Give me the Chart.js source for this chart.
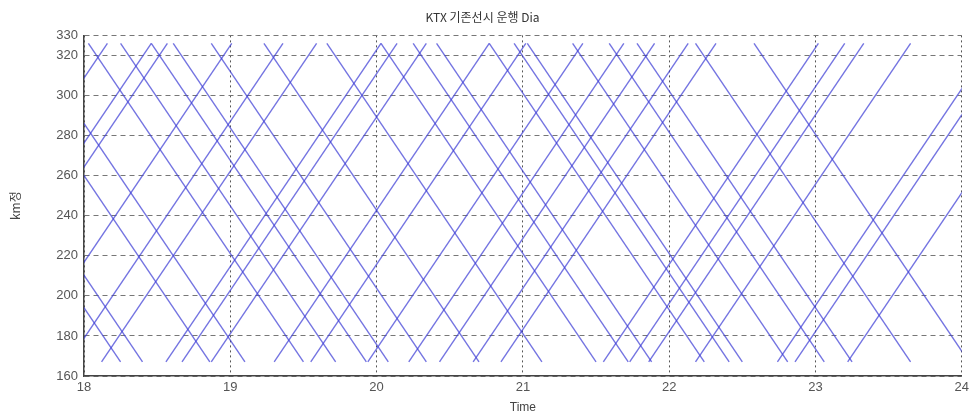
<!DOCTYPE html>
<html>
<head>
<meta charset="utf-8">
<script src="https://cdn.jsdelivr.net/npm/chart.js@4.4.1/dist/chart.umd.min.js"></script>
<style>
  html, body { margin: 0; padding: 0; background: #ffffff; }
  #wrap { width: 973px; height: 416px; }
</style>
</head>
<body>
<div id="wrap"><canvas id="dia" width="973" height="416"></canvas></div>
<script>
// Line ends (km post) shared by every train path
const kmTop = 326;
const kmBottom = 167;

// Down trains: time leaving kmTop and time reaching kmBottom (hours)
const downDepart = [16.78, 16.93, 17.39, 17.63, 18.03, 18.25, 18.46, 18.61, 18.87, 19.23, 19.66,
                    20.03, 20.25, 20.41, 20.77, 20.94, 21.03, 21.34, 21.59, 21.78, 22.18, 22.58];
const downArrive = [18.25, 18.40, 18.86, 19.10, 19.50, 19.72, 19.93, 20.08, 20.34, 20.70, 21.13,
                    21.50, 21.72, 21.88, 22.24, 22.41, 22.50, 22.81, 23.06, 23.25, 23.65, 24.05];

// Up trains: time leaving kmBottom and time reaching kmTop (hours)
const upDepart = [16.69, 16.99, 17.10, 17.54, 17.89, 18.12, 18.56, 18.67, 18.87, 19.30, 19.55, 19.94,
                  20.22, 20.43, 20.66, 20.85, 21.55, 21.73, 21.86, 22.18, 22.74, 22.86, 23.22];
const upArrive = [18.16, 18.46, 18.57, 19.01, 19.36, 19.59, 20.03, 20.14, 20.34, 20.77, 21.02, 21.41,
                  21.69, 21.90, 22.13, 22.32, 23.02, 23.20, 23.33, 23.65, 24.21, 24.33, 24.69];

// Axis ticks
const timeTicks = [18, 19, 20, 21, 22, 23, 24];
const kmTicks = [160, 180, 200, 220, 240, 260, 280, 300, 320, 330];

const lineColor = 'rgba(62, 62, 214, 0.72)';

const datasets = [];
downDepart.forEach((t, i) => {
  datasets.push({
    data: [{ x: t, y: kmTop }, { x: downArrive[i], y: kmBottom }],
    borderColor: lineColor, borderWidth: 1.4, pointRadius: 0, showLine: true, fill: false
  });
});
upDepart.forEach((t, i) => {
  datasets.push({
    data: [{ x: t, y: kmBottom }, { x: upArrive[i], y: kmTop }],
    borderColor: lineColor, borderWidth: 1.4, pointRadius: 0, showLine: true, fill: false
  });
});

const tickFont = { family: '"Liberation Sans", Arial, sans-serif', size: 13 };

new Chart(document.getElementById('dia'), {
  type: 'scatter',
  data: { datasets },
  options: {
    responsive: false,
    animation: false,
    events: [],
    layout: { padding: { left: 0, right: 8, top: 0, bottom: 0 } },
    plugins: {
      legend: { display: false },
      tooltip: { enabled: false },
      title: {
        display: true,
        text: 'KTX 기존선시 운행 Dia',
        color: '#333',
        font: { family: '"Noto Sans CJK KR", "Liberation Sans", sans-serif', size: 12, weight: 'normal' },
        padding: { top: 10, bottom: 11 }
      }
    },
    scales: {
      x: {
        type: 'linear',
        min: 18, max: 24,
        afterBuildTicks: s => { s.ticks = timeTicks.map(v => ({ value: v })); },
        afterFit: s => { s.height = 40; },
        ticks: { color: '#555', font: tickFont, padding: 4, maxRotation: 0 },
        grid: { color: '#555', lineWidth: 1, drawTicks: false },
        border: { display: true, color: '#444', width: 1.5, dash: [2, 3] },
        title: {
          display: true, text: 'Time', color: '#444',
          font: { family: '"Liberation Sans", Arial, sans-serif', size: 12 },
          padding: { top: 0, bottom: 1 }
        }
      },
      y: {
        type: 'linear',
        min: 160, max: 330,
        afterBuildTicks: s => { s.ticks = kmTicks.map(v => ({ value: v })); },
        afterFit: s => { s.width = 84; },
        ticks: { color: '#555', font: tickFont, padding: 6 },
        grid: { color: '#777', lineWidth: 1, drawTicks: false },
        border: { display: true, color: '#444', width: 1.5, dash: [5, 4] },
        title: {
          display: true, text: 'km정', color: '#444',
          font: { family: '"Noto Sans CJK KR", "Liberation Sans", sans-serif', size: 12 },
          padding: { top: 8, bottom: 0 }
        }
      }
    }
  }
});
</script>
</body>
</html>
